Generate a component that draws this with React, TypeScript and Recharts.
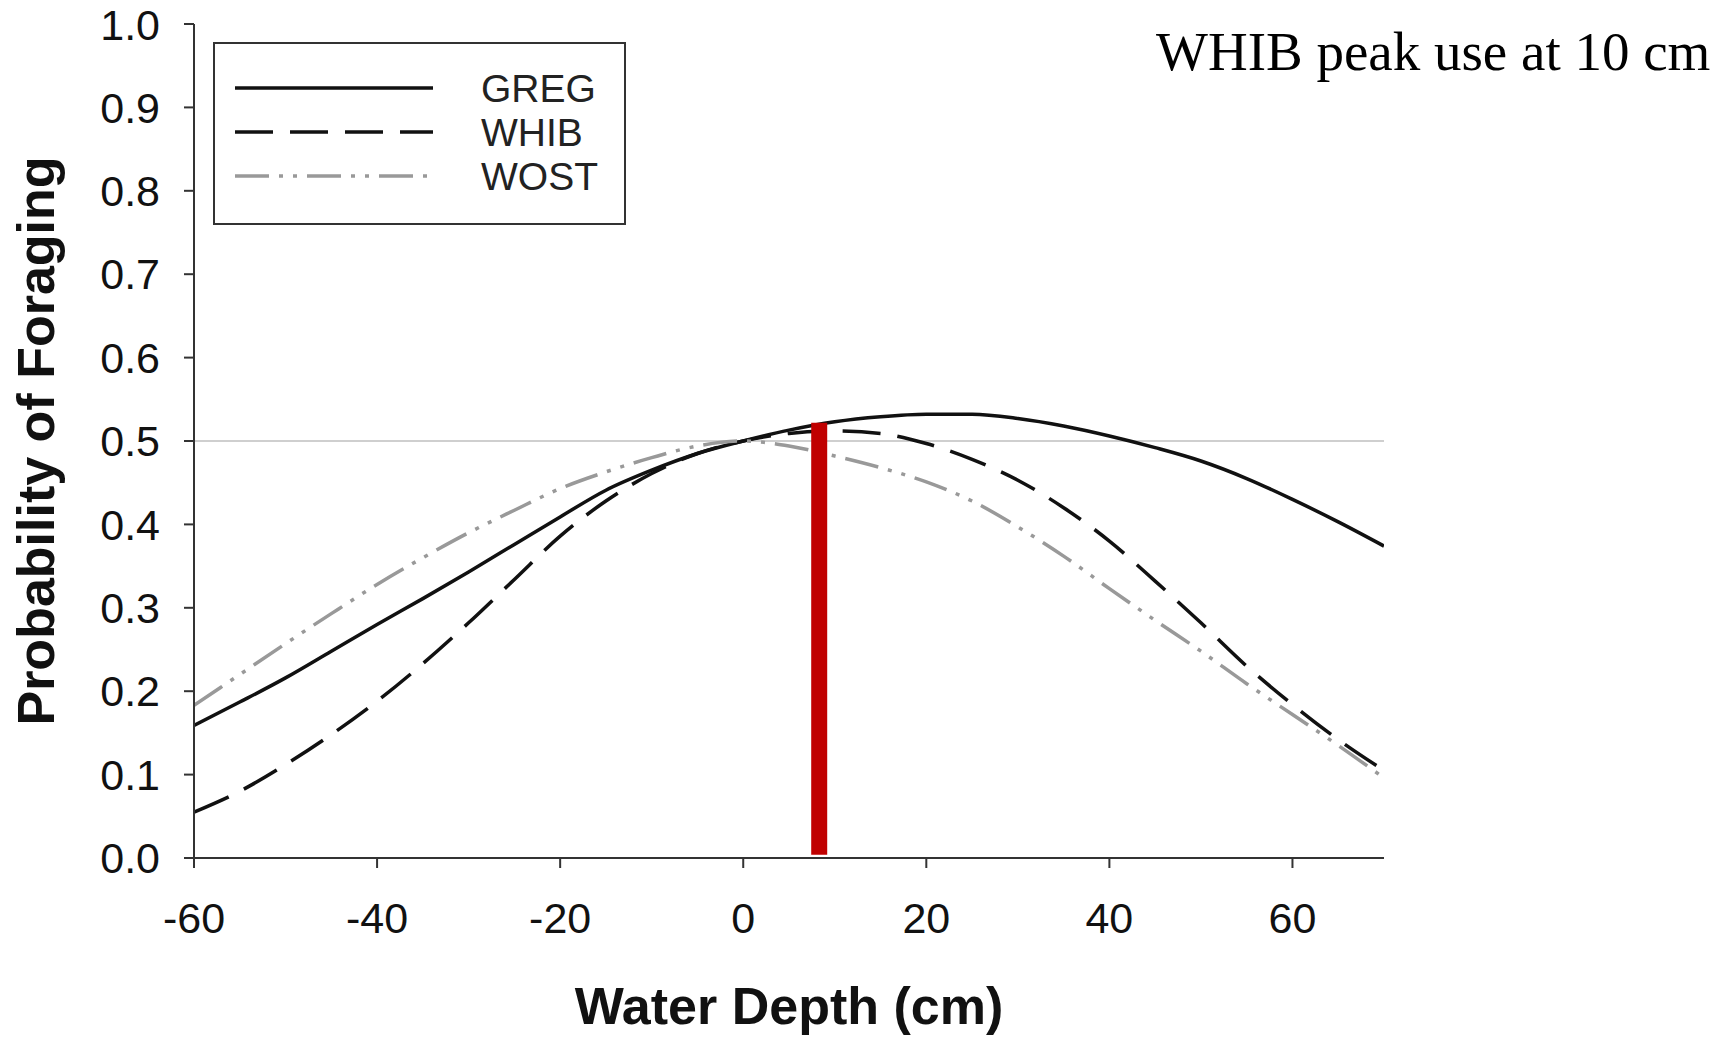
import React from 'react';
import { LineChart, Line, XAxis, YAxis, ReferenceLine, Legend } from 'recharts';

// water depth (cm)
const depths = [-60, -55, -50, -45, -40, -35, -30, -25, -20, -15, -10, -5, 0, 5, 10, 15, 20, 25, 30, 35, 40, 45, 50, 55, 60, 65, 70];

// probability of foraging
const gregValues = [0.159, 0.187, 0.216, 0.248, 0.28, 0.311, 0.343, 0.376, 0.409, 0.441, 0.465, 0.485, 0.5, 0.513, 0.523, 0.529, 0.532, 0.532, 0.527, 0.518, 0.506, 0.492, 0.476, 0.455, 0.43, 0.403, 0.374];
const whibValues = [0.055, 0.08, 0.112, 0.148, 0.188, 0.233, 0.282, 0.334, 0.386, 0.428, 0.461, 0.485, 0.5, 0.509, 0.512, 0.509, 0.497, 0.478, 0.453, 0.42, 0.38, 0.332, 0.282, 0.23, 0.184, 0.142, 0.105];
const wostValues = [0.183, 0.22, 0.257, 0.293, 0.328, 0.36, 0.39, 0.417, 0.443, 0.463, 0.48, 0.494, 0.5, 0.494, 0.482, 0.468, 0.451, 0.428, 0.397, 0.362, 0.323, 0.285, 0.248, 0.209, 0.172, 0.135, 0.096];

const xTicks = [-60, -40, -20, 0, 20, 40, 60];
const yTicks = [0, 0.1, 0.2, 0.3, 0.4, 0.5, 0.6, 0.7, 0.8, 0.9, 1.0];

// red marker for the WHIB peak
const peakDepth = 8.3;
const peakTop = 0.522;
const peakBottom = 0.004;

const data = depths.map((d, i) => ({
  depth: d,
  GREG: gregValues[i],
  WHIB: whibValues[i],
  WOST: wostValues[i],
}));

const sansFont = '"Liberation Sans", Arial, sans-serif';

const renderLegend = (props: any) => {
  const { payload } = props;
  return (
    <div
      style={{
        width: 409,
        height: 179,
        border: '2px solid #333',
        background: '#fff',
        position: 'relative',
      }}
    >
      <svg width={409} height={179} style={{ position: 'absolute', left: 0, top: 0 }}>
        {payload.map((entry: any, i: number) => {
          const y = 44 + i * 44;
          return (
            <g key={entry.value}>
              <line
                x1={20}
                x2={218}
                y1={y}
                y2={y}
                stroke={entry.payload.stroke}
                strokeWidth={entry.payload.strokeWidth}
                strokeDasharray={entry.payload.strokeDasharray}
              />
              <text
                x={266}
                y={y}
                dominantBaseline="central"
                fontFamily={sansFont}
                fontSize={39}
                fill="#222"
              >
                {entry.value}
              </text>
            </g>
          );
        })}
      </svg>
    </div>
  );
};

const XLabel = (props: any) => {
  const { viewBox } = props;
  const cx = viewBox.x + viewBox.width / 2;
  return (
    <text x={cx} y={1006} textAnchor="middle" dominantBaseline="central" fontFamily={sansFont} fontWeight="bold" fontSize={52} fill="#111">
      Water Depth (cm)
    </text>
  );
};

const YLabel = (props: any) => {
  const { viewBox } = props;
  const cx = 36;
  const cy = viewBox.y + viewBox.height / 2;
  return (
    <text
      x={cx}
      y={cy}
      transform={`rotate(-90 ${cx} ${cy})`}
      textAnchor="middle"
      dominantBaseline="central"
      fontFamily={sansFont}
      fontWeight="bold"
      fontSize={52}
      fill="#111"
    >
      Probability of Foraging
    </text>
  );
};

export default function App() {
  return (
    <div style={{ position: 'absolute', left: 0, top: 0, width: 1729, height: 1037, background: '#fff' }}>
      <LineChart width={1729} height={1037} data={data} margin={{ top: 24, right: 345, bottom: 149, left: 94 }}>
        <XAxis
          dataKey="depth"
          type="number"
          domain={[-60, 70]}
          ticks={xTicks}
          allowDataOverflow
          height={30}
          stroke="#333"
          strokeWidth={2}
          tickSize={10}
          tickMargin={34}
          tick={{ fontSize: 43, fill: '#111', fontFamily: sansFont }}
          label={<XLabel />}
        />
        <YAxis
          type="number"
          domain={[0, 1]}
          ticks={yTicks}
          width={100}
          stroke="#333"
          strokeWidth={2}
          tickSize={10}
          tickMargin={24}
          tickFormatter={(v: number) => v.toFixed(1)}
          tick={{ fontSize: 43, fill: '#111', fontFamily: sansFont }}
          label={<YLabel />}
        />
        <ReferenceLine y={0.5} stroke="#cfcfcf" strokeWidth={2} />
        <Line
          type="monotone"
          dataKey="GREG"
          stroke="#111"
          strokeWidth={3.5}
          dot={false}
          isAnimationActive={false}
        />
        <Line
          type="monotone"
          dataKey="WHIB"
          stroke="#111"
          strokeWidth={3.5}
          strokeDasharray="38 17"
          dot={false}
          isAnimationActive={false}
        />
        <Line
          type="monotone"
          dataKey="WOST"
          stroke="#999"
          strokeWidth={3.5}
          strokeDasharray="34 10 4 10 4 10"
          dot={false}
          isAnimationActive={false}
        />
        <ReferenceLine
          segment={[
            { x: peakDepth, y: peakBottom },
            { x: peakDepth, y: peakTop },
          ]}
          stroke="#c00000"
          strokeWidth={16}
        />
        <Legend
          layout="vertical"
          align="center"
          verticalAlign="middle"
          content={renderLegend}
          wrapperStyle={{ position: 'absolute', left: 213, top: 42, width: 413, height: 183 }}
        />
      </LineChart>
      <div
        style={{
          position: 'absolute',
          left: 1156,
          top: 18,
          fontFamily: '"Liberation Serif", "Times New Roman", serif',
          fontSize: 55,
          lineHeight: '68px',
          color: '#000',
          whiteSpace: 'nowrap',
        }}
      >
        WHIB peak use at 10 cm
      </div>
    </div>
  );
}
